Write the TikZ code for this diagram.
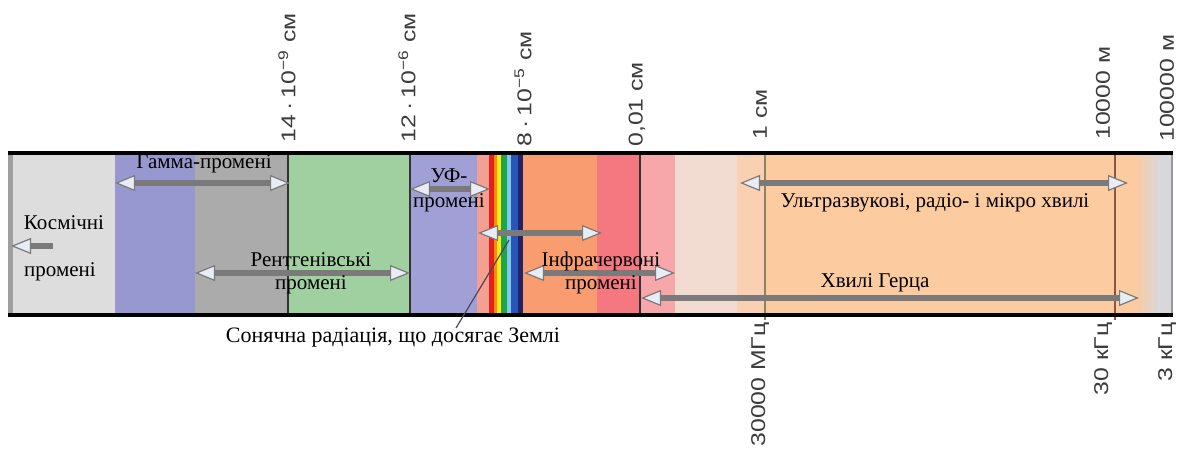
\documentclass[tikz,border=0pt]{standalone}
\usepackage{fontspec}
\setmainfont{Liberation Serif}
\setsansfont{Liberation Sans}
\usetikzlibrary{arrows.meta}

% spectrum band colours
\definecolor{cosmic}{RGB}{221,221,221}
\definecolor{violetband}{RGB}{152,152,208}
\definecolor{xgray}{RGB}{171,171,171}
\definecolor{greenband}{RGB}{160,208,160}
\definecolor{uvband}{RGB}{160,160,214}
\definecolor{salmon}{RGB}{243,160,146}
\definecolor{sred}{RGB}{230,30,30}
\definecolor{sorange}{RGB}{255,140,0}
\definecolor{syellow}{RGB}{255,235,20}
\definecolor{sgreen}{RGB}{30,165,70}
\definecolor{slblue}{RGB}{130,200,236}
\definecolor{sblue}{RGB}{40,85,185}
\definecolor{snavy}{RGB}{35,35,100}
\definecolor{irorange}{RGB}{249,157,112}
\definecolor{irred}{RGB}{245,120,128}
\definecolor{irpink}{RGB}{247,166,170}
\definecolor{beige}{RGB}{242,219,208}
\definecolor{lpeach}{RGB}{249,208,178}
\definecolor{peach}{RGB}{252,203,160}
\definecolor{endgray}{RGB}{214,216,220}
\definecolor{raygray}{RGB}{122,122,122}
\definecolor{tipfill}{RGB}{232,236,244}
\definecolor{scaletext}{RGB}{60,60,60}

\tikzset{
  ray/.style={draw=raygray, line width=2.6pt,
    arrows={Triangle[length=10pt,width=8pt,line width'=0.6pt,fill=tipfill]-Triangle[length=10pt,width=8pt,line width'=0.6pt,fill=tipfill]}},
  leftray/.style={draw=raygray, line width=2.6pt,
    arrows={-Triangle[length=10pt,width=8pt,line width'=0.6pt,fill=tipfill]}},
  bandtext/.style={font=\fontsize{10.5}{11}\selectfont, text=black, inner sep=0pt, align=center},
  scaletop/.style={rotate=90, anchor=west, inner sep=0pt, text=scaletext, font=\sffamily\fontsize{10}{12}\selectfont},
  scalebot/.style={rotate=90, anchor=east, inner sep=0pt, text=scaletext, font=\sffamily\fontsize{10}{12}\selectfont},
  divider/.style={draw={rgb,255:red,50;green,50;blue,50}, line width=0.9pt},
}
\newcommand{\stretchtxt}[1]{\scalebox{1.24}[1]{#1}}

\begin{document}
\begin{tikzpicture}[x=0.5pt, y=-0.5pt]
\useasboundingbox (0,0) rectangle (1181,460);
\fill[white] (0,0) rectangle (1181,460);

% ---- coloured bands of the spectrum ----
\fill[cosmic]      (13,153) rectangle (115,315);
\fill[violetband]  (115,153) rectangle (195,315);
\fill[xgray]       (195,153) rectangle (288,315);
\fill[greenband]   (288,153) rectangle (410,315);
\fill[uvband]      (410,153) rectangle (477,315);
\fill[salmon]      (477,153) rectangle (489,315);
\fill[sred]        (489,153) rectangle (494,315);
\fill[sorange]     (494,153) rectangle (497,315);
\fill[syellow]     (497,153) rectangle (501,315);
\fill[sgreen]      (501,153) rectangle (507,315);
\fill[slblue]      (507,153) rectangle (511,315);
\fill[sblue]       (511,153) rectangle (518,315);
\fill[snavy]       (518,153) rectangle (523,315);
\fill[irorange]    (523,153) rectangle (597,315);
\fill[irred]       (597,153) rectangle (640,315);
\fill[irpink]      (640,153) rectangle (675,315);
\fill[beige]       (675,153) rectangle (737,315);
\fill[lpeach]      (737,153) rectangle (765,315);
\fill[peach]       (765,153) rectangle (1135,315);
\shade[left color=peach, right color=endgray] (1135,153) rectangle (1160,315);
\fill[endgray]     (1160,153) rectangle (1172,315);

% ---- borders and dividing lines ----
\fill[gray!75] (8,153) rectangle (13,315);
\draw[divider] (288,153) -- (288,315);
\draw[divider] (410,153) -- (410,315);
\draw[divider] (640,153) -- (640,315);
\draw[draw={rgb,255:red,140;green,130;blue,100}, line width=1pt] (765,153) -- (765,320);
\draw[draw={rgb,255:red,140;green,85;blue,70}, line width=1pt] (1115,153) -- (1115,320);
\draw[draw=gray!80, line width=1pt] (1172,153) -- (1172,315);
\draw[line width=1.6pt] (8,153) -- (1173,153);
\draw[line width=1.6pt] (8,315) -- (1173,315);

% ---- wavelength scale (above) ----
\node[scaletop] (w1) at (287,143) {\stretchtxt{14\,·\,10\textsuperscript{−9} см}};
\node[scaletop] (w2) at (407,143) {\stretchtxt{12\,·\,10\textsuperscript{−6} см}};
\node[scaletop] (w3) at (523,147) {\stretchtxt{8\,·\,10\textsuperscript{−5} см}};
\node[scaletop] (w4) at (637,147) {\stretchtxt{0,01 см}};
\node[scaletop] (w5) at (760,140) {\stretchtxt{1 см}};
\node[scaletop] (w6) at (1103,140) {\stretchtxt{10000 м}};
\node[scaletop] (w7) at (1167,142) {\stretchtxt{100000 м}};

% ---- frequency scale (below) ----
\node[scalebot] (f1) at (760,322) {\stretchtxt{30000 МГц}};
\node[scalebot] (f2) at (1103,322) {\stretchtxt{30 кГц}};
\node[scalebot] (f3) at (1167,322) {\stretchtxt{3 кГц}};

% ---- range arrows ----
\coordinate (cosA) at (53,246);   \coordinate (cosB) at (11,246);
\coordinate (gamA) at (115,183);  \coordinate (gamB) at (290,183);
\coordinate (xA)   at (195,273);  \coordinate (xB)   at (410,273);
\coordinate (uvA)  at (410,189);  \coordinate (uvB)  at (490,189);
\coordinate (visA) at (478,233);  \coordinate (visB) at (602,233);
\coordinate (irA)  at (524,273);  \coordinate (irB)  at (675,273);
\coordinate (usA)  at (740,183);  \coordinate (usB)  at (1128,183);
\coordinate (hzA)  at (641,298);  \coordinate (hzB)  at (1139,298);

\draw[leftray] (cosA) -- (cosB);
\draw[ray] (gamA) -- (gamB);
\draw[ray] (xA) -- (xB);
\draw[ray] (uvA) -- (uvB);
\draw[ray] (visA) -- (visB);
\draw[ray] (irA) -- (irB);
\draw[ray] (usA) -- (usB);
\draw[ray] (hzA) -- (hzB);

% ---- range labels ----
\node[bandtext] (kos)  at (64,223)  {Космічні};
\node[bandtext] (kosb) at (60,272)  {промені};
\node[bandtext] (gam)  at (204,164) {Гамма-промені};
\node[bandtext, font=\fontsize{10.5}{11.5}\selectfont] (xr) at (311,273) {Рентгенівські\\промені};
\node[bandtext, font=\fontsize{10.5}{12.5}\selectfont] (uv) at (449,190) {УФ-\\промені};
\node[bandtext, font=\fontsize{10.5}{11.5}\selectfont] (ir) at (601,273) {Інфрачервоні\\промені};
\node[bandtext] (us)  at (935,203) {Ультразвукові, радіо- і мікро хвилі};
\node[bandtext] (hz)  at (875,283) {Хвилі Герца};

% ---- solar radiation pointer ----
\node[bandtext, font=\fontsize{11}{13}\selectfont] (sun) at (393,338) {Сонячна радіація, що досягає Землі};
\coordinate (sunpt) at (509,240);
\coordinate (sunend) at (456,328);
\draw[draw={rgb,255:red,80;green,70;blue,90}, line width=0.6pt] (sunpt) -- (sunend);
\end{tikzpicture}
\end{document}
